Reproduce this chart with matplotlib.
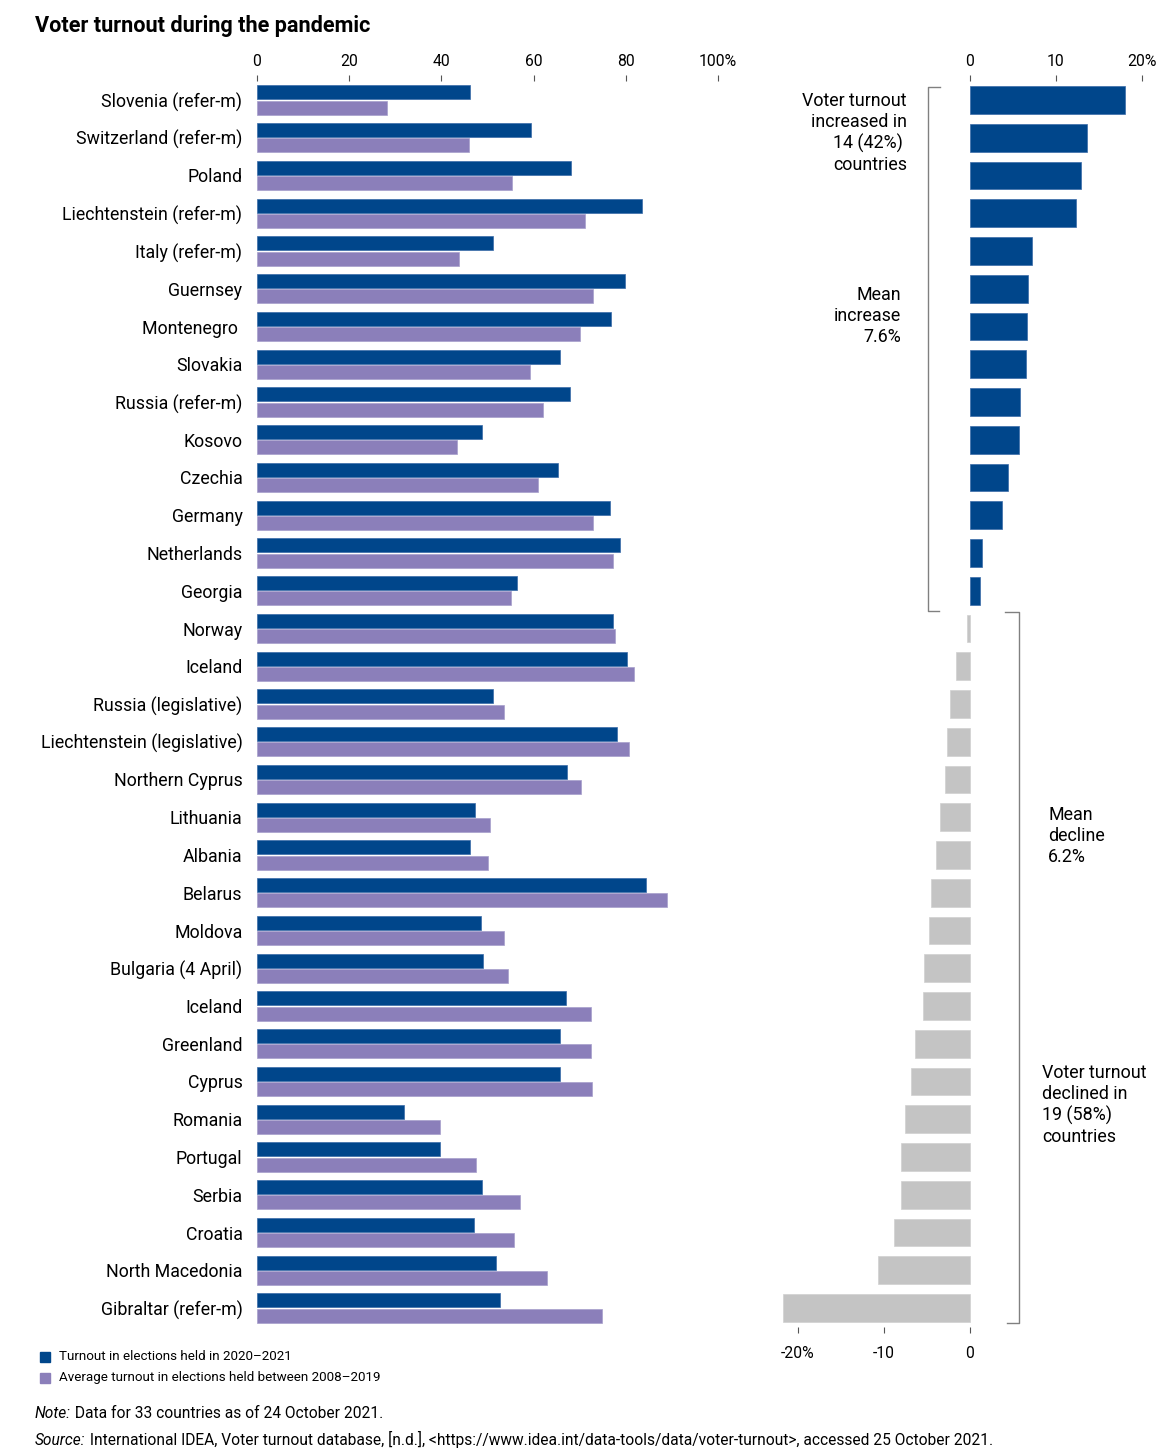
import matplotlib
matplotlib.use("Agg")
import matplotlib.pyplot as plt
import numpy as np

plt.rcParams['font.family'] = ['Roboto', 'DejaVu Sans']

countries = ["Slovenia (refer-m)", "Switzerland (refer-m)", "Poland", "Liechtenstein (refer-m)",
             "Italy (refer-m)", "Guernsey", "Montenegro ", "Slovakia", "Russia (refer-m)", "Kosovo",
             "Czechia", "Germany", "Netherlands", "Georgia", "Norway", "Iceland",
             "Russia (legislative)", "Liechtenstein (legislative)", "Northern Cyprus", "Lithuania",
             "Albania", "Belarus", "Moldova", "Bulgaria (4 April)", "Iceland", "Greenland", "Cyprus",
             "Romania", "Portugal", "Serbia", "Croatia", "North Macedonia", "Gibraltar (refer-m)"]

turnout_2020_2021 = [46.1, 59.5, 68.2, 83.5, 51.1, 79.9, 76.8, 65.8, 68.0, 48.9,
                     65.4, 76.6, 78.8, 56.3, 77.3, 80.3, 51.1, 78.1, 67.3, 47.2,
                     46.3, 84.4, 48.5, 49.1, 67.1, 65.8, 65.8, 31.8, 39.6, 48.9,
                     47.0, 51.9, 52.8]
avg_2008_2019 = [28.1, 45.9, 55.4, 71.2, 43.9, 72.9, 70.1, 59.3, 62.1, 43.3,
                 61.0, 72.9, 77.3, 55.0, 77.7, 81.8, 53.5, 80.7, 70.3, 50.6,
                 50.2, 89.0, 53.5, 54.5, 72.5, 72.5, 72.7, 39.6, 47.6, 57.1,
                 55.8, 62.8, 74.9]
change = [18.0, 13.6, 12.9, 12.3, 7.2, 6.7, 6.6, 6.5, 5.8, 5.7,
          4.4, 3.7, 1.4, 1.2, -0.35, -1.6, -2.3, -2.7, -2.9, -3.5,
          -4.0, -4.5, -4.8, -5.3, -5.5, -6.4, -6.9, -7.6, -8.0, -8.0,
          -8.8, -10.7, -21.7]

left_ticks = [0, 20, 40, 60, 80, 100]
left_ticklabels = ["0", "20", "40", "60", "80", "100%"]
right_top_ticks = [0, 10, 20]
right_top_labels = ["0", "10", "20%"]
right_bot_ticks = [-20, -10, 0]
right_bot_labels = ["-20%", "-10", "0"]

BLUE = "#00468b"
PURPLE = "#8b7fba"
GRAY = "#c4c4c4"
BRK = "#808080"

W, H = 1172, 1456
fig = plt.figure(figsize=(W / 100, H / 100), dpi=100)

n = len(countries)
row0, rowN = 100.0, 1308.0
step = (rowN - row0) / (n - 1)
top_px = row0 - 0.5 * step
bot_px = rowN + 0.5 * step

def ax_rect(x0, x1):
    return [x0 / W, 1 - bot_px / H, (x1 - x0) / W, (bot_px - top_px) / H]

TICK_FS = 11.3

# Left axes
axL = fig.add_axes(ax_rect(257, 718))
y = np.arange(n)
bh = 0.37
axL.barh(y - 0.2, turnout_2020_2021, height=bh, color=BLUE, edgecolor="#3a6aa8", linewidth=0.5)
axL.barh(y + 0.2, avg_2008_2019, height=bh, color=PURPLE, edgecolor="#a79fcc", linewidth=0.5)
axL.set_xlim(0, 100)
axL.set_ylim(n - 0.5, -0.5)
axL.set_yticks(y)
axL.set_yticklabels(countries, fontsize=12.8, va='center_baseline')
axL.tick_params(axis='y', length=0, pad=10.5)
axL.xaxis.tick_top()
axL.set_xticks(left_ticks)
axL.set_xticklabels(left_ticklabels, fontsize=TICK_FS)
axL.tick_params(axis='x', length=4, width=0.8, color="#555555", pad=5)
for s in axL.spines.values():
    s.set_visible(False)

# Right axes
x0r = 970 - 22.2 * 8.6
x1r = 970 + 20.5 * 8.6
axR = fig.add_axes(ax_rect(x0r, x1r))
colors = [BLUE if c > 0 else GRAY for c in change]
edges = ["#3a6aa8" if c > 0 else "#d0d0d0" for c in change]
axR.barh(y, change, height=0.74, color=colors, edgecolor=edges, linewidth=0.5)
axR.set_xlim(-22.2, 20.5)
axR.set_ylim(n - 0.5, -0.5)
axR.set_yticks([])
axR.xaxis.tick_top()
axR.set_xticks(right_top_ticks)
axR.set_xticklabels(right_top_labels, fontsize=TICK_FS)
axR.tick_params(axis='x', length=4, width=0.8, color="#555555", pad=5)
for s in axR.spines.values():
    s.set_visible(False)
axB = axR.secondary_xaxis('bottom')
axB.set_xticks(right_bot_ticks)
axB.set_xticklabels(right_bot_labels, fontsize=TICK_FS)
axB.tick_params(axis='x', length=4, width=0.8, color="#555555", pad=10)
axB.spines['bottom'].set_visible(False)

# Brackets (figure pixel coords)
def fx(px): return px / W
def fy(py): return 1 - py / H
def line(xs, ys):
    fig.add_artist(plt.Line2D([fx(v) for v in xs], [fy(v) for v in ys],
                              color=BRK, linewidth=1.0, transform=fig.transFigure))
line([940, 928, 928, 939], [87, 87, 611, 611])
line([1005, 1019, 1019, 1007], [612, 612, 1323, 1323])

fs_ann = 12.9
fig.text(fx(907), fy(92), "Voter turnout\nincreased in\n14 (42%) \ncountries", ha='right', va='top',
         fontsize=fs_ann, linespacing=1.2)
fig.text(fx(901), fy(286), "Mean\nincrease\n7.6%", ha='right', va='top', fontsize=fs_ann, linespacing=1.2)
fig.text(fx(1048), fy(806), "Mean\ndecline\n6.2%", ha='left', va='top', fontsize=fs_ann, linespacing=1.2)
fig.text(fx(1042), fy(1064), "Voter turnout\ndeclined in\n19 (58%)\ncountries", ha='left', va='top',
         fontsize=fs_ann, linespacing=1.2)

# Title
fig.text(fx(35), fy(26), "Voter turnout during the pandemic", ha='left', va='center',
         fontsize=15.6, fontweight='bold')

# Legend
fig.patches.append(plt.Rectangle((fx(40), fy(1362)), 10 / W, 10 / H, color=BLUE, transform=fig.transFigure))
fig.patches.append(plt.Rectangle((fx(40), fy(1383)), 10 / W, 10 / H, color=PURPLE, transform=fig.transFigure))
fig.text(fx(59), fy(1357), "Turnout in elections held in 2020\u20132021", ha='left', va='center', fontsize=9.6)
fig.text(fx(59), fy(1378), "Average turnout in elections held between 2008\u20132019", ha='left', va='center', fontsize=9.6)

# Notes
renderer = fig.canvas.get_renderer()
def two_part(ypx, ital, rest, fs=11.2):
    t = fig.text(fx(35), fy(ypx), ital, ha='left', va='baseline', fontsize=fs, fontstyle='italic')
    bb = t.get_window_extent(renderer=renderer)
    fig.text(bb.x1 / W, fy(ypx), " " + rest, ha='left', va='baseline', fontsize=fs)

two_part(1418, "Note:", "Data for 33 countries as of 24 October 2021.")
two_part(1445, "Source:", "International IDEA, Voter turnout database, [n.d.], <https://www.idea.int/data-tools/data/voter-turnout>, accessed 25 October 2021.")

fig.savefig("out.png", dpi=100)
